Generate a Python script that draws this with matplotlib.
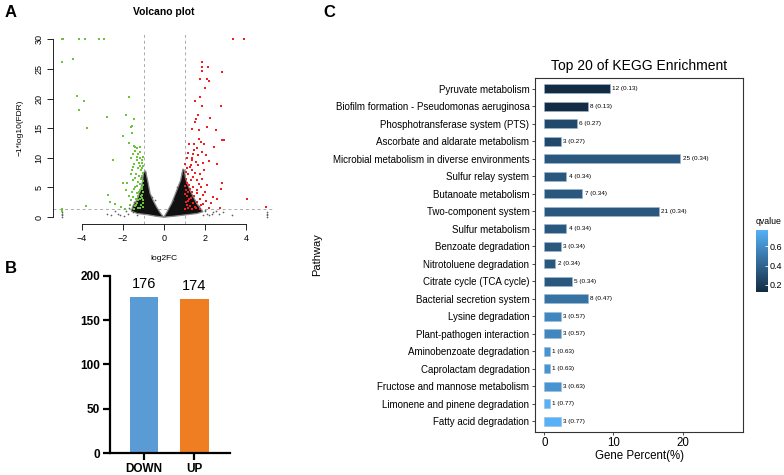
import numpy as np
import matplotlib.pyplot as plt
from matplotlib.colors import LinearSegmentedColormap, Normalize
from matplotlib.cm import ScalarMappable

plt.rcParams['font.family'] = ['Liberation Sans', 'DejaVu Sans']

# ---- panel A: volcano ----
green_fc = [-5.0, -4.91, -4.15, -3.85, -3.17, -2.91, -5.0, -4.44, -4.23, -3.9, -4.15, -3.76,
            -2.76, -1.87, -1.69, -2.02, -1.48, -1.61, -1.56, -1.56, -2.47, -2.72, -2.39, -3.8,
            -4.98, -4.98, -1.45, -1.41, -1.33, -1.17, -1.5, -1.25, -1.62, -1.33, -1.09, -1.2,
            -1.45, -1.04, -1.28, -1.12, -1.56, -1.35, -1.07, -1.98, -1.79, -1.53, -1.25, -1.04,
            -1.4, -1.15, -1.56, -1.33, -1.09, -2.64, -1.5, -1.25, -1.04, -1.66, -1.4, -1.15,
            -2.11, -1.9, -1.02, -1.08, -1.18, -1.03, -1.22, -1.1, -1.02, -1.18, -1.3, -1.08,
            -1.02, -1.22, -1.05, -1.18, -1.38, -1.02, -1.1, -1.3, -1.03, -1.25, -1.45, -1.6,
            -1.72, -1.85, -1.4, -1.6, -1.5, -1.3, -1.15, -1.4, -1.7, -1.05, -1.15, -1.12,
            -1.06, -1.25, -1.45, -1.35]
green_fdr = [30, 30, 30, 30, 30, 30, 26.2, 26.6, 20.4, 19.6, 18.1, 15.0,
             16.9, 17.2, 20.2, 13.6, 16.5, 15.2, 15.3, 14.1, 9.7, 3.8, 2.2, 1.9,
             1.3, 1.1, 12.0, 11.9, 11.6, 11.8, 10.6, 10.6, 9.9, 9.6, 9.6, 9.2,
             9.0, 8.7, 8.2, 7.9, 7.9, 7.2, 6.9, 5.8, 5.7, 6.3, 6.0, 5.4,
             5.1, 4.6, 4.3, 4.0, 3.8, 2.6, 3.4, 2.8, 2.4, 2.1, 1.8, 1.5,
             1.7, 1.4, 10.2, 8.3, 8.6, 7.4, 7.0, 6.4, 6.1, 5.5, 5.3, 5.0,
             4.3, 4.2, 3.3, 3.1, 3.0, 2.9, 2.0, 2.3, 1.7, 1.5, 1.4, 2.8,
             3.6, 4.6, 6.6, 7.3, 8.4, 10.2, 10.9, 11.2, 12.5, 9.1, 9.9, 3.5,
             4.8, 3.6, 4.7, 2.0]

red_fc = [3.35, 3.89, 1.85, 1.85, 1.85, 2.16, 2.81, 1.76, 2.1, 2.18, 2.0, 1.76, 1.51, 1.85,
          2.78, 1.64, 2.24, 1.56, 1.53, 2.08, 1.69, 2.54, 1.38, 2.81, 2.91, 1.72, 1.79, 1.22,
          1.48, 1.95, 1.48, 1.19, 1.41, 1.67, 1.1, 1.35, 1.3, 1.67, 1.1, 1.38, 1.51, 1.19,
          1.75, 1.07, 1.3, 1.59, 2.11, 1.1, 1.22, 1.43, 1.79, 2.81, 1.07, 1.35, 1.59, 1.91,
          1.13, 1.3, 1.75, 2.41, 1.19, 1.43, 1.91, 1.1, 1.51, 2.73, 1.35, 1.75, 1.04, 4.03,
          2.78, 2.58, 2.3, 4.96, 1.6, 1.85, 2.05, 1.55, 1.9, 2.2, 1.02, 1.25, 1.05, 1.95,
          1.4, 1.85, 1.03, 1.28, 1.6, 2.0, 1.04, 1.45, 1.22, 1.6, 1.05, 1.28, 1.8, 2.2,
          1.15, 1.55, 2.05, 1.7, 1.15, 1.35, 2.45, 2.6]
red_fdr = [30, 30, 26.2, 25.3, 24.7, 25.3, 24.5, 23.3, 23.3, 23.0, 21.7, 20.2, 19.5, 18.8,
           18.7, 17.2, 16.7, 16.5, 16.0, 15.2, 14.7, 14.7, 14.8, 13.0, 13.0, 13.1, 12.6, 12.3,
           12.3, 12.3, 11.3, 10.8, 10.7, 10.5, 9.9, 9.6, 8.8, 8.8, 8.2, 8.0, 7.4, 7.2,
           7.2, 6.5, 6.3, 6.2, 5.4, 5.8, 5.4, 5.1, 5.0, 5.8, 4.5, 4.2, 4.0, 3.8,
           3.5, 3.2, 3.0, 3.4, 2.7, 2.4, 2.2, 2.0, 1.7, 1.5, 1.4, 1.4, 1.4, 3.1,
           4.7, 3.1, 2.4, 1.7, 11.6, 11.0, 10.5, 9.3, 9.1, 9.5, 9.0, 8.5, 7.6, 7.9,
           6.8, 6.5, 5.2, 4.8, 4.6, 4.3, 3.9, 3.6, 3.0, 2.6, 2.5, 1.9, 2.0, 1.6,
           1.6, 1.5, 2.7, 5.5, 4.2, 10.0, 11.8, 9.0]

gray_fc = [-5, -5, -5, -5, 5, 5, 5, 5, -2.8, -2.6, -2.23, -2.15, -1.95, -1.74, -1.5, -1.85,
           -2.4, -1.3, 2.08, 2.32, 2.4, 2.55, 2.2, 2.7, 1.9, 2.0, 2.9, 3.3, -1.1, -0.95,
           -1.2, -1.45, -1.7, -0.6, -0.45, 0.45, 0.65, 1.15, 1.35, 1.7, 2.0, 0.95, 0.88]
gray_fdr = [0.05, 0.3, 0.55, 0.8, 0.05, 0.3, 0.55, 0.8, 0.6, 0.3, 0.6, 0.4, 0.2, 0.6, 0.9, 1.0,
            1.1, 0.3, 0.6, 0.6, 0.9, 1.1, 0.3, 0.5, 0.4, 1.0, 0.8, 0.4, 6.8, 7.6,
            4.0, 2.6, 1.6, 3.4, 2.8, 2.9, 5.0, 5.5, 3.6, 1.9, 1.2, 8.0, 7.2]

# envelope of the dense non-significant cloud (two arms of the V)
cloud_left_fc = [-0.05, -0.4, -0.8, -1.3, -1.6, -1.5, -1.3, -1.15, -1.05, -1.0, -0.9,
                 -0.8, -0.68, -0.5, -0.36, -0.2, -0.08, 0.0]
cloud_left_fdr = [0.0, 0.15, 0.4, 0.6, 1.0, 2.0, 3.0, 4.5, 6.0, 7.5, 7.8,
                  6.2, 4.0, 2.6, 1.7, 0.8, 0.25, 0.0]
cloud_right_fc = [0.05, 0.5, 1.0, 1.6, 1.9, 1.6, 1.27, 1.05, 1.0, 0.92,
                  0.81, 0.62, 0.37, 0.15, 0.0]
cloud_right_fdr = [0.0, 0.15, 0.35, 0.6, 0.9, 2.3, 4.5, 6.5, 7.9, 8.1,
                   6.2, 4.5, 2.3, 0.9, 0.0]

# ---- panel B ----
deg_groups = ['DOWN', 'UP']
deg_counts = [176, 174]

# ---- panel C ----
pathways = ['Pyruvate metabolism', 'Biofilm formation - Pseudomonas aeruginosa',
            'Phosphotransferase system (PTS)', 'Ascorbate and aldarate metabolism',
            'Microbial metabolism in diverse environments', 'Sulfur relay system',
            'Butanoate metabolism', 'Two-component system', 'Sulfur metabolism',
            'Benzoate degradation', 'Nitrotoluene degradation', 'Citrate cycle (TCA cycle)',
            'Bacterial secretion system', 'Lysine degradation', 'Plant-pathogen interaction',
            'Aminobenzoate degradation', 'Caprolactam degradation',
            'Fructose and mannose metabolism', 'Limonene and pinene degradation',
            'Fatty acid degradation']
gene_counts = [12, 8, 6, 3, 25, 4, 7, 21, 4, 3, 2, 5, 8, 3, 3, 1, 1, 3, 1, 3]
gene_percent = [9.45, 6.30, 4.72, 2.36, 19.69, 3.15, 5.51, 16.54, 3.15, 2.36, 1.57, 3.94,
                6.30, 2.36, 2.36, 0.79, 0.79, 2.36, 0.79, 2.36]
qvalues = [0.13, 0.13, 0.27, 0.27, 0.34, 0.34, 0.34, 0.34, 0.34, 0.34, 0.34, 0.34,
           0.47, 0.57, 0.57, 0.63, 0.63, 0.63, 0.77, 0.77]

fig = plt.figure(figsize=(7.84, 4.75), dpi=100)

# volcano
ax = fig.add_axes([0.068, 0.528, 0.2824, 0.4044])
ax.fill(cloud_left_fc, cloud_left_fdr, facecolor='#111111', edgecolor='#888888', lw=0.9, zorder=1)
ax.fill(cloud_right_fc, cloud_right_fdr, facecolor='#111111', edgecolor='#888888', lw=0.9, zorder=1)
ax.scatter(gray_fc, gray_fdr, s=1.5, color='#606060', lw=0, zorder=2)
ax.scatter(green_fc, green_fdr, s=4, marker='s', color='#6CC43C', lw=0, zorder=3)
ax.scatter(red_fc, red_fdr, s=4, marker='s', color='#F02020', lw=0, zorder=3)
for v in (-1, 1):
    ax.axvline(v, color='#aaaaaa', ls=(0, (3, 3)), lw=0.7, zorder=0)
ax.axhline(1.3, color='#aaaaaa', ls=(0, (3, 3)), lw=0.7, zorder=0)
ax.set_xlim(-5.4, 5.4)
ax.set_ylim(-1.2, 31.2)
for s in ('top', 'right'):
    ax.spines[s].set_visible(False)
ax.spines['left'].set_bounds(0, 30)
ax.spines['bottom'].set_bounds(-4, 4)
for s in ('left', 'bottom'):
    ax.spines[s].set_linewidth(0.6)
ax.set_xticks([-4, -2, 0, 2, 4])
ax.set_yticks([0, 5, 10, 15, 20, 25, 30])
ax.set_yticklabels(['0', '5', '10', '15', '20', '25', '30'], rotation=90, va='center')
ax.tick_params(length=4, width=0.6, labelsize=6.5, pad=3)
ax.set_xlabel('log2FC', fontsize=6, labelpad=9)
ax.set_ylabel('\u22121*log10(FDR)', fontsize=6, labelpad=8)
ax.set_title('Volcano plot', fontsize=7.5, fontweight='bold', pad=12)

# DEG counts
axb = fig.add_axes([0.1403, 0.0457, 0.153, 0.374])
axb.bar(range(len(deg_groups)), deg_counts, width=0.567, color=['#5A9BD5', '#EF7D22'])
for i, v in enumerate(deg_counts):
    axb.text(i, v + 7, str(v), ha='center', va='bottom', fontsize=10.5)
axb.set_xlim(-0.676, 1.71)
axb.set_ylim(0, 200)
axb.set_yticks([0, 50, 100, 150, 200])
axb.set_xticks(range(len(deg_groups)))
axb.set_xticklabels(deg_groups)
for s in ('top', 'right'):
    axb.spines[s].set_visible(False)
for s in ('left', 'bottom'):
    axb.spines[s].set_linewidth(1.6)
axb.tick_params(length=5, width=1.6, labelsize=8.5, pad=2)
for t in axb.get_xticklabels() + axb.get_yticklabels():
    t.set_fontweight('bold')

# KEGG enrichment
cmap = LinearSegmentedColormap.from_list('gg', ['#132B43', '#56B1F7'])
norm = Normalize(vmin=0.13, vmax=0.77)
axc = fig.add_axes([0.6824, 0.0912, 0.2657, 0.744])
ypos = np.arange(len(pathways))
axc.barh(ypos, gene_percent, height=0.5, color=cmap(norm(qvalues)),
         edgecolor='#9DB9D3', linewidth=0.4)
for y, p, c, q in zip(ypos, gene_percent, gene_counts, qvalues):
    axc.text(p + 0.35, y, f'{c} ({q:.2f})', va='center', ha='left', fontsize=4.6)
axc.set_ylim(19.6, -0.6)
axc.set_xlim(-1.35, 28.8)
axc.set_yticks(ypos)
axc.set_yticklabels(pathways, fontsize=7)
axc.set_xticks([0, 10, 20])
axc.tick_params(axis='x', labelsize=8.3, length=2.5, width=0.5, pad=1)
axc.tick_params(axis='y', length=2.5, width=0.5, pad=1.5)
for s in axc.spines.values():
    s.set_linewidth(0.8)
    s.set_color('#333333')
axc.set_xlabel('Gene Percent(%)', fontsize=8.3, labelpad=1)
axc.set_ylabel('Pathway', fontsize=8, labelpad=8)
axc.set_title('Top 20 of KEGG Enrichment', fontsize=10, pad=6)

cax = fig.add_axes([0.9643, 0.386, 0.0153, 0.13])
cb = fig.colorbar(ScalarMappable(norm=norm, cmap=cmap), cax=cax, ticks=[0.2, 0.4, 0.6])
cb.outline.set_visible(False)
cax.tick_params(length=2.5, width=0.6, color='white', labelsize=6.5, pad=1.5, direction='in')
cax.set_title('qvalue', fontsize=6.3, loc='left', pad=4)

fig.text(0.006, 0.965, 'A', fontsize=12, fontweight='bold')
fig.text(0.006, 0.425, 'B', fontsize=12, fontweight='bold')
fig.text(0.413, 0.965, 'C', fontsize=12, fontweight='bold')

fig.savefig('out.png', dpi=100)
